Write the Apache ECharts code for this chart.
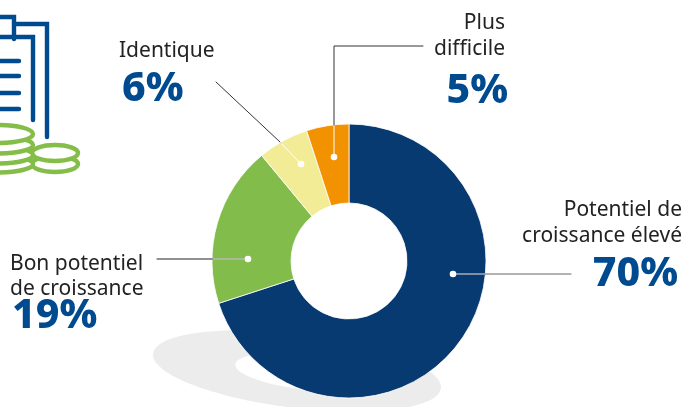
<!DOCTYPE html>
<html><head><meta charset="utf-8">
<style>html,body{margin:0;padding:0;background:#fff}#c{width:684px;height:407px}</style>
<script src="https://cdn.jsdelivr.net/npm/echarts@6/dist/echarts.min.js"></script>
</head><body><div id="c"></div>
<script>
const categories = ['Potentiel de croissance élevé','Bon potentiel de croissance','Identique','Plus difficile'];
const values = [70,19,6,5];
const colors = ['#073a70','#82bc4b','#f3ec97','#f39200'];
const percentLabels = ['70%','19%','6%','5%'];

const chart = echarts.init(document.getElementById('c'),null,{renderer:'canvas'});
const font = '"Noto Sans","Open Sans",sans-serif';
const blue='#004a8f', green='#84bd47', dark='#333';
const txt=(x,y,text,align,lh)=>({type:'text',z:10,x,y,style:{text,align,verticalAlign:'top',fontFamily:font,fontSize:21,fill:'#222',lineHeight:lh||26}});
const pct=(x,y,text,align)=>({type:'text',z:10,x,y,style:{text,align,verticalAlign:'top',fontFamily:font,fontSize:41,fontWeight:800,fill:blue}});
const line=(pts,stroke,w)=>({type:'polyline',z:10,shape:{points:pts},style:{stroke,lineWidth:w,fill:null,lineCap:'round',lineJoin:'miter'}});
const dot=(x,y)=>({type:'circle',z:11,shape:{cx:x,cy:y,r:3.3},style:{fill:'#fff'}});
const ell=(cx,cy,rx,ry,style,rot,z)=>({type:'ellipse',z:z===undefined?5:z,x:cx,y:cy,originX:0,originY:0,rotation:rot||0,shape:{cx:0,cy:0,rx,ry},style});
const coin=(cx,cy,rx,ry)=>ell(cx,cy,rx,ry,{fill:'#fff',stroke:green,lineWidth:4.4});

const graphic=[
  ell(297,371,145,37,{fill:'#ececec'},-0.12,-1),
  ell(310,372,75,18,{fill:'#fff'},-0.1,-1),
  line([[0,17],[14,17],[14,39]],blue,4.4),
  line([[14,24],[47,24],[47,137]],blue,4.4),
  line([[0,37],[33,37],[33,120]],blue,4.4),
  line([[0,61],[19,61]],blue,4.4),
  line([[0,76],[19,76]],blue,4.4),
  line([[0,93],[19,93]],blue,4.4),
  line([[0,109],[19,109]],blue,4.4),
  coin(55,164,23,8), coin(55,153,23,8),
  coin(-2,164,35,8.5), coin(-2,155,35,8.5), coin(-2,145,35,8.5), coin(-2,134,35,9),
  line([[157,259],[248,259]],'#222',1),
  line([[453,274],[571,274]],'#666',1),
  line([[216,82],[280,142]],dark,1),
  line([[334,125],[334,46],[423,46]],dark,1),
  line([[282,144],[301,164]],'#fff',1),
  line([[334,126],[334,157]],'#fff',1),
  line([[213,259],[248,259]],'#fff',1),
  line([[453,274],[485,274]],'#ccd',1),
  dot(248,259),dot(301,164),dot(334,157),dot(453,274),
  txt(682,197,'Potentiel de\ncroissance élevé','right'),
  pct(678,254,percentLabels[0],'right'),
  txt(10,252,'Bon potentiel\nde croissance','left',25),
  pct(12,296,percentLabels[1],'left'),
  txt(119,38,categories[2],'left'),
  pct(122,69,percentLabels[2],'left'),
  txt(505,10,'Plus\ndifficile','right'),
  pct(508,71,percentLabels[3],'right')
];

chart.setOption({
  animation:false,
  graphic:{elements:graphic},
  series:[{
    type:'pie',z:2,
    center:[349,261],radius:[58,137],
    startAngle:90,clockwise:true,
    label:{show:false},labelLine:{show:false},silent:true,
    itemStyle:{borderColor:'#fff',borderWidth:0.8},
    data:categories.map((name,i)=>({name,value:values[i],itemStyle:{color:colors[i]}}))
  }]
});
</script></body></html>
